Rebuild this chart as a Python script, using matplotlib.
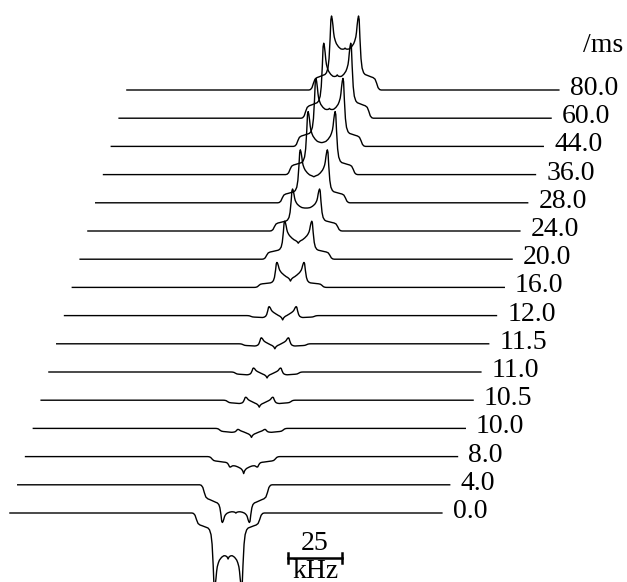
import matplotlib
matplotlib.use("Agg")
import matplotlib.pyplot as plt
import numpy as np

# ---- data ----
delays_ms = ["0.0", "4.0", "8.0", "10.0", "10.5", "11.0", "11.5", "12.0",
             "16.0", "20.0", "24.0", "28.0", "36.0", "44.0", "60.0", "80.0"]
# component amplitudes (arbitrary intensity units)
amp_shoulder = [-15.0, -17.5, -5.5, -3.9, -3.3, -2.8, -2.2, -1.9,
                4.5, 9.0, 10.0, 11.0, 12.0, 13.0, 15.5, 15.5]
amp_horn = [-60.0, -20.2, -5.0, 2.9, 6.3, 6.8, 8.2, 10.9,
            20.5, 29.0, 32.0, 42.0, 51.0, 55.0, 59.5, 58.5]
amp_center = [-7.0, -2.7, -9.5, -6.3, -6.2, -5.9, -6.1, -6.8,
              -6.4, -4.6, 0.2, -1.8, -0.4, 3.0, 4.0, 3.0]

# half line-shape profiles (offset from centre in kHz)
half_khz = [0.0, 0.46, 0.93, 1.39, 2.0, 2.5, 3.0, 3.5, 4.0, 4.5, 5.0, 5.3, 5.6,
            5.95, 6.25, 6.55, 6.9, 7.4, 7.9, 8.6, 9.3, 10.2, 11.1, 12.0, 13.0,
            13.9, 14.6, 15.3, 16.0, 16.7]
horn_profile = [0.40, 0.40, 0.405, 0.41, 0.42, 0.44, 0.46, 0.49, 0.52, 0.57,
                0.64, 0.72, 0.84, 0.95, 1.0, 0.94, 0.62, 0.27, 0.11, 0.03,
                0.0, 0.0, 0.0, 0.0, 0.0, 0.0, 0.0, 0.0, 0.0, 0.0]
shoulder_profile = [1.0, 1.0, 1.0, 1.0, 1.0, 1.0, 1.0, 1.0, 1.0, 1.0,
                    1.0, 1.0, 1.0, 1.0, 1.0, 1.0, 1.0, 1.0, 1.0, 1.0,
                    1.0, 0.95, 0.9, 0.85, 0.8, 0.7, 0.45, 0.15, 0.03, 0.0]
center_profile = [1.0, 0.7, 0.55, 0.45, 0.37, 0.3, 0.24, 0.18, 0.13, 0.09,
                  0.05, 0.03, 0.01, 0.0, 0.0, 0.0, 0.0, 0.0, 0.0, 0.0,
                  0.0, 0.0, 0.0, 0.0, 0.0, 0.0, 0.0, 0.0, 0.0, 0.0]

span_khz = (-101.0, 99.0)
scale_bar_khz = 25

# ---- layout ----
dx = 3.61      # kHz shift per trace
dy = 28.2      # vertical shift per trace
FONT = ["Liberation Serif", "DejaVu Serif"]
FS = 20

fig = plt.figure(figsize=(6.27, 5.82), dpi=100)
ax = fig.add_axes([0, 0, 1, 1])
ax.set_xlim(-105.6, 184.7)
ax.set_ylim(-69, 513)
ax.axis("off")

h = np.array(half_khz)
f = np.concatenate([[span_khz[0]], -h[::-1], h[1:], [span_khz[1]]])
def full(p):
    p = np.array(p)
    return np.concatenate([[0.0], p[::-1], p[1:], [0.0]])
H = full(horn_profile)
S = full(shoulder_profile)
C = full(center_profile)

for i, lab in enumerate(delays_ms):
    sig = amp_shoulder[i] * S + amp_horn[i] * H + amp_center[i] * C
    ax.plot(f + i * dx, sig + i * dy, color="black", lw=1.0,
            solid_joinstyle="round", clip_on=True)
    ax.text(span_khz[1] + i * dx + 5.0, i * dy + 1.5, lab, family=FONT,
            fontsize=FS, ha="left", va="center")

ax.text(164.4, 468, "/ms", family=FONT, fontsize=FS, ha="left", va="center")

# scale bar
x0 = 27.8
x1 = x0 + scale_bar_khz
yb = -45
ax.plot([x0, x1], [yb, yb], color="black", lw=1.8)
ax.plot([x0, x0], [yb - 5, yb + 5], color="black", lw=1.8)
ax.plot([x1, x1], [yb - 5, yb + 5], color="black", lw=1.8)
ax.text((x0 + x1) / 2, yb + 14, str(scale_bar_khz), family=FONT, fontsize=FS,
        ha="center", va="center")
ax.text((x0 + x1) / 2, yb - 13, "kHz", family=FONT, fontsize=FS,
        ha="center", va="center")

fig.savefig("out.png", dpi=100)
